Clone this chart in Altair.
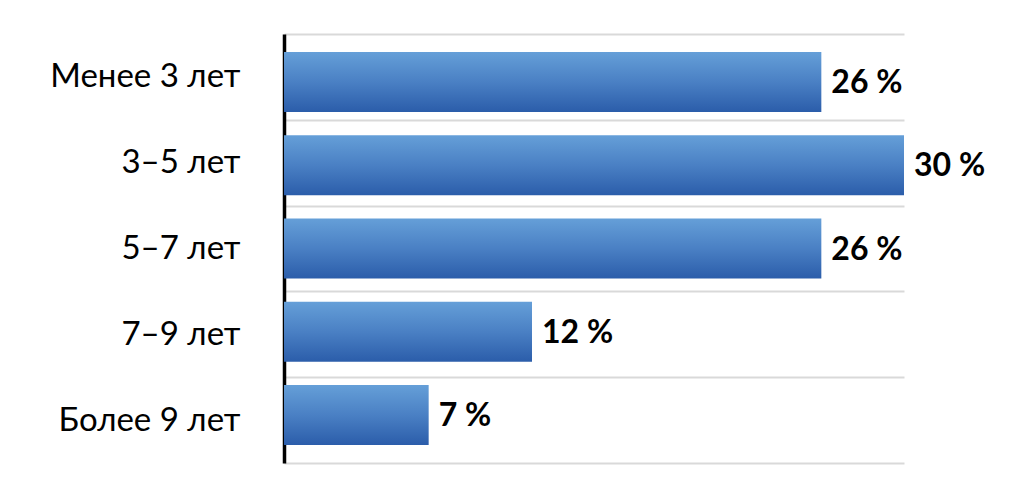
import altair as alt
import pandas as pd

categories = ["Менее 3 лет", "3–5 лет", "5–7 лет", "7–9 лет", "Более 9 лет"]
values = [26, 30, 26, 12, 7]
value_labels = ["26 %", "30 %", "26 %", "12 %", "7 %"]

df = pd.DataFrame({"cat": categories, "val": values, "lab": value_labels})

FONT = "Lato"

x_enc = alt.X(
    "val:Q",
    title=None,
    scale=alt.Scale(domain=[0, 30], nice=False),
    axis=None,
)

# category axis with gridlines between categories
axis_layer = alt.Chart(df).mark_tick(opacity=0).encode(
    x=x_enc,
    y=alt.Y(
        "cat:N",
        sort=categories,
        title=None,
        scale=alt.Scale(paddingInner=0, paddingOuter=0),
        axis=alt.Axis(
            grid=True,
            tickBand="extent",
            gridColor="#d9d9d9",
            gridWidth=2,
            ticks=False,
            domain=True,
            domainColor="#000000",
            domainWidth=3.5,
            labelFont=FONT,
            labelFontSize=33,
            labelColor="#000000",
            labelPadding=44,
            labelLimit=400,
        ),
    ),
)

y_bar = alt.Y(
    "cat:N",
    sort=categories,
    title=None,
    scale=alt.Scale(paddingInner=0.279, paddingOuter=0.216),
    axis=None,
)

bars = alt.Chart(df).mark_bar(
    color=alt.Gradient(
        gradient="linear",
        stops=[
            alt.GradientStop(color="#659fd8", offset=0),
            alt.GradientStop(color="#4a80c4", offset=0.5),
            alt.GradientStop(color="#2b5daa", offset=1),
        ],
        x1=0, x2=0, y1=0, y2=1,
    ),
    cornerRadius=0,
).encode(x=x_enc, y=y_bar)

texts = alt.Chart(df).mark_text(
    align="left",
    baseline="middle",
    dx=10,
    dy=1,
    font=FONT,
    fontSize=32,
    fontWeight="bold",
    color="#000000",
).encode(x=x_enc, y=y_bar, text="lab:N")

chart = (
    alt.layer(axis_layer, alt.layer(bars, texts))
    .resolve_scale(y="independent")
    .properties(
        width=620,
        height=429,
        padding={"left": 276, "top": 26, "right": 117, "bottom": 25},
        autosize=alt.AutoSizeParams(type="none"),
        background="#ffffff",
    )
    .configure_view(stroke=None)
)

chart.save("out.html", embed_options={"renderer": "svg", "actions": False})
